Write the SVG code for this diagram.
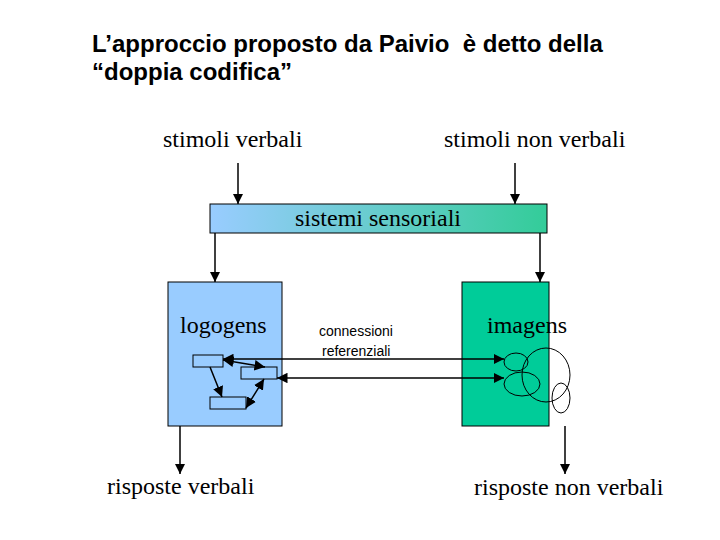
<svg xmlns="http://www.w3.org/2000/svg" width="720" height="540" viewBox="0 0 720 540">
<style>
.t{font-family:"Liberation Serif",serif;font-size:24px;fill:#000}
.h{font-family:"Liberation Sans",sans-serif;font-size:24px;font-weight:bold;fill:#000}
.s{font-family:"Liberation Sans",sans-serif;font-size:14px;fill:#000}
.l{stroke:#000;stroke-width:1.5;fill:none}
</style>
<defs>
<linearGradient id="g" x1="0" x2="1" y1="0" y2="0"><stop offset="0" stop-color="#99ccff"/><stop offset="1" stop-color="#33cc99"/></linearGradient>
<marker id="a" viewBox="0 0 10 10" refX="10" refY="5" markerWidth="7" markerHeight="7" orient="auto-start-reverse"><path d="M0,0L10,5L0,10z" fill="#000"/></marker>
</defs>
<rect width="720" height="540" fill="#fff"/>
<text class="h" x="92" y="52" xml:space="preserve">L’approccio proposto da Paivio  è detto della</text>
<text class="h" x="92" y="80">“doppia codifica”</text>
<g id="sv"><text class="t" x="163" y="147">stimoli verbali</text></g>
<g id="snv"><text class="t" x="444" y="147">stimoli non verbali</text></g>
<g id="sens"><rect x="210" y="204" width="337" height="29" fill="url(#g)" stroke="#000"/><text class="t" x="295" y="226">sistemi sensoriali</text></g>
<g id="logo"><rect x="168" y="282" width="114" height="144" fill="#99ccff" stroke="#000"/><text class="t" x="180" y="333">logogens</text>
<rect x="193" y="355" width="30" height="12" fill="#99ccff" stroke="#000"/>
<rect x="241" y="367" width="36" height="12" fill="#99ccff" stroke="#000"/>
<rect x="210" y="397" width="36" height="12" fill="#99ccff" stroke="#000"/></g>
<g id="imag"><rect x="462" y="282" width="87" height="144" fill="#00cc99" stroke="#000"/><text class="t" x="487" y="333">imagens</text>
<g fill="none" stroke="#000"><ellipse cx="516" cy="362" rx="12" ry="9"/><ellipse cx="522" cy="384" rx="18" ry="12"/><ellipse cx="546" cy="375" rx="24" ry="27"/><ellipse cx="561" cy="398" rx="9" ry="15"/></g></g>
<g id="conn"><text class="s" x="319" y="336">connessioni</text><text class="s" x="322" y="356">referenziali</text></g>
<g id="rv"><text class="t" x="107" y="494">risposte verbali</text></g>
<g id="rnv"><text class="t" x="474" y="495">risposte non verbali</text></g>
<g id="connectors">
<line class="l" x1="238" y1="163" x2="238" y2="204" marker-end="url(#a)"/>
<line class="l" x1="515" y1="163" x2="515" y2="204" marker-end="url(#a)"/>
<line class="l" x1="215" y1="233" x2="215" y2="282" marker-end="url(#a)"/>
<line class="l" x1="540" y1="233" x2="540" y2="282" marker-end="url(#a)"/>
<line class="l" x1="180" y1="426" x2="180" y2="474" marker-end="url(#a)"/>
<line class="l" x1="565" y1="426" x2="565" y2="474" marker-end="url(#a)"/>
<line class="l" x1="223" y1="359" x2="504" y2="359" marker-start="url(#a)" marker-end="url(#a)"/>
<line class="l" x1="223" y1="360" x2="265" y2="367" marker-start="url(#a)" marker-end="url(#a)"/>
<line class="l" x1="277" y1="378" x2="504" y2="378" marker-start="url(#a)" marker-end="url(#a)"/>
<line class="l" x1="210" y1="367" x2="222" y2="397" marker-end="url(#a)"/>
<line class="l" x1="246" y1="408" x2="264" y2="379" marker-start="url(#a)" marker-end="url(#a)"/>
</g>
</svg>
